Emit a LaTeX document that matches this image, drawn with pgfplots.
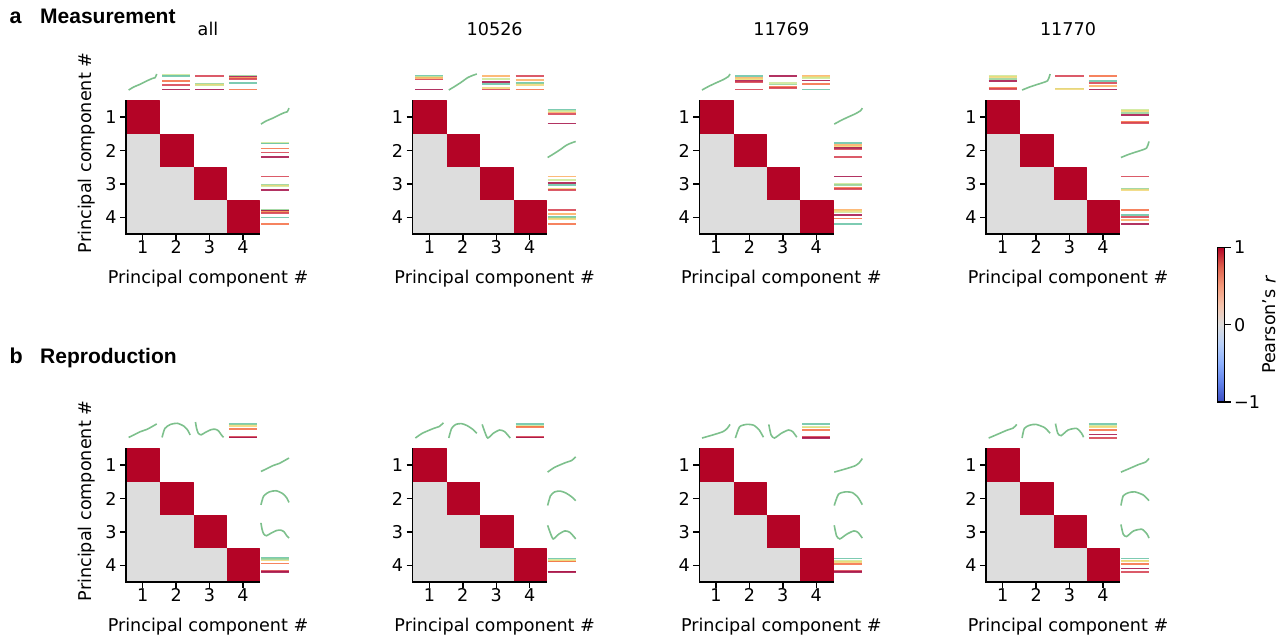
\documentclass[border=0pt]{standalone}
\usepackage{fontspec}
\setmainfont{DejaVu Sans}
\newfontfamily\headfont{Liberation Sans}
\usepackage{pgfplots}
\pgfplotsset{compat=1.18}
\usepackage{pgfplotstable}

\newcommand\figfont{\fontsize{17.6}{21}\selectfont}

\definecolor{sdred}{RGB}{165,15,70}
\definecolor{sred}{RGB}{213,62,79}
\definecolor{sorange}{RGB}{244,109,67}
\definecolor{slor}{RGB}{253,174,97}
\definecolor{syel}{RGB}{240,215,120}
\definecolor{slgr}{RGB}{205,232,150}
\definecolor{sgreen}{RGB}{150,210,150}
\definecolor{steal}{RGB}{102,194,165}
\definecolor{curvec}{RGB}{125,192,140}

\pgfplotsset{
  colormap={coolwarm}{rgb255=(59,76,192) rgb255=(98,130,234) rgb255=(141,176,254) rgb255=(184,208,249) rgb255=(221,221,221) rgb255=(245,196,173) rgb255=(244,154,123) rgb255=(222,96,77) rgb255=(180,4,38)},
  mtop/.style={x filter/.expression={#1-0.42+0.84*x}, y filter/.expression={4.81+0.48*y}},
  mright/.style={x filter/.expression={4.54+0.84*x}, y filter/.expression={4.79-#1+0.48*y}},
  mini line/.style={line width=1.7pt, opacity=0.85, no markers},
  mini curve/.style={line width=1.6pt, draw=curvec, no markers, smooth, tension=0.4},
  panel/.style={
    scale only axis, width=164pt, height=162pt,
    xmin=0.5, xmax=5.41, ymin=0.5, ymax=5.35,
    clip=false,
    axis line style={draw=none},
    xtick={1,2,3,4}, ytick={1,2,3,4}, yticklabels={4,3,2,1},
    tick pos=left, tick align=outside,
    major tick length=6pt,
    every tick/.style={black, line width=1.4pt},
    tick label style={font=\figfont},
    xticklabel style={inner sep=0.5pt},
    /pgf/number format/assume math mode=true,
    xlabel={Principal component \#},
    xlabel style={at={(axis description cs:0.5,-0.3025)}, anchor=base, font=\figfont},
    title style={at={(axis description cs:0.5,1.188)}, anchor=base, font=\figfont},
    colormap name=coolwarm, point meta min=-1, point meta max=1,
  },
  ylab/.style={ylabel={Principal component \#},
    ylabel style={at={(axis description cs:-0.2134,0.5)}, anchor=base, font=\figfont}},
}

% correlation matrix cells (lower triangle + diagonal; upper masked)
\pgfplotstableread{
x y c
0.5 4.5 1
1.5 4.5 1
1.5 3.5 1
0.5 3.5 1
1.5 3.5 1
2.5 3.5 1
2.5 2.5 1
1.5 2.5 1
2.5 2.5 1
3.5 2.5 1
3.5 1.5 1
2.5 1.5 1
3.5 1.5 1
4.5 1.5 1
4.5 0.5 1
3.5 0.5 1
0.5 3.5 0
1.5 3.5 0
1.5 2.5 0
0.5 2.5 0
0.5 2.5 0
1.5 2.5 0
1.5 1.5 0
0.5 1.5 0
1.5 2.5 0
2.5 2.5 0
2.5 1.5 0
1.5 1.5 0
0.5 1.5 0
1.5 1.5 0
1.5 0.5 0
0.5 0.5 0
1.5 1.5 0
2.5 1.5 0
2.5 0.5 0
1.5 0.5 0
2.5 1.5 0
3.5 1.5 0
3.5 0.5 0
2.5 0.5 0
}\corr

% mini curves (u v)
\pgfplotstableread[row sep=\\]{u v\\0 0\\0.18 0.19\\0.42 0.37\\0.66 0.58\\0.84 0.72\\0.94 0.77\\1 1\\}\tAa
\pgfplotstableread[row sep=\\]{u v\\0 0\\0.18 0.19\\0.43 0.47\\0.67 0.77\\0.85 0.91\\1 1\\}\tAb
\pgfplotstableread[row sep=\\]{u v\\0 0\\0.24 0.23\\0.53 0.47\\0.76 0.65\\0.94 0.84\\1 1\\}\tAc
\pgfplotstableread[row sep=\\]{u v\\0 0\\0.27 0.19\\0.51 0.33\\0.76 0.47\\0.91 0.58\\0.96 0.77\\1 1\\}\tAd

\pgfplotstableread[row sep=\\]{u v\\0 0.04\\0.18 0.19\\0.42 0.40\\0.65 0.54\\0.83 0.71\\1 0.88\\}\tRaA
\pgfplotstableread[row sep=\\]{u v\\0 0.04\\0.1 0.6\\0.3 0.85\\0.54 0.92\\0.77 0.75\\0.91 0.5\\1 0.19\\}\tRaB
\pgfplotstableread[row sep=\\]{u v\\0 1\\0.04 0.6\\0.1 0.3\\0.2 0.2\\0.35 0.35\\0.55 0.52\\0.7 0.55\\0.82 0.45\\0.92 0.2\\1 0.05\\}\tRaC
\pgfplotstableread[row sep=\\]{u v\\0 0\\0.25 0.3\\0.65 0.6\\0.85 0.72\\1 0.95\\}\tRbA
\pgfplotstableread[row sep=\\]{u v\\0 0\\0.1 0.6\\0.25 0.85\\0.45 0.9\\0.65 0.78\\0.85 0.55\\1 0.3\\}\tRbB
\pgfplotstableread[row sep=\\]{u v\\0 0.85\\0.1 0.35\\0.2 0\\0.4 0.3\\0.62 0.5\\0.8 0.4\\1 0\\}\tRbC
\pgfplotstableread[row sep=\\]{u v\\0 0\\0.4 0.2\\0.75 0.4\\0.9 0.6\\1 0.85\\}\tRcA
\pgfplotstableread[row sep=\\]{u v\\0 0\\0.15 0.7\\0.4 0.85\\0.65 0.8\\0.85 0.5\\1 0.05\\}\tRcB
\pgfplotstableread[row sep=\\]{u v\\0 0.85\\0.08 0.2\\0.2 0\\0.45 0.3\\0.7 0.5\\0.85 0.4\\1 0.05\\}\tRcC
\pgfplotstableread[row sep=\\]{u v\\0 0\\0.27 0.2\\0.64 0.48\\0.88 0.63\\1 0.85\\}\tRdA
\pgfplotstableread[row sep=\\]{u v\\0 0\\0.08 0.6\\0.27 0.8\\0.5 0.85\\0.8 0.65\\1 0.3\\}\tRdB
\pgfplotstableread[row sep=\\]{u v\\0 0.9\\0.08 0.3\\0.2 0.15\\0.45 0.5\\0.75 0.6\\0.93 0.3\\1 0.05\\}\tRdC

\newcommand\HL[3]{\addplot[#1, mini line, draw=#2] coordinates {(0,#3) (1,#3)};}
\newcommand\CV[2]{\addplot[#1, mini curve] table[x=u,y=v] {#2};}
\newcommand\heat{%
  \addplot[patch, patch type=rectangle, shader=flat, point meta=explicit] table[x=x,y=y,meta=c] {\corr};
  \draw[line width=1.4pt, line cap=rect] (axis cs:0.5,4.5) -- (axis cs:0.5,0.5) -- (axis cs:4.5,0.5);}
\newcommand\minis[4]{#1{mtop=1}#1{mright=1}#2{mtop=2}#2{mright=2}#3{mtop=3}#3{mright=3}#4{mtop=4}#4{mright=4}}

% Measurement minis
\newcommand\MaA[1]{\CV{#1}{\tAa}}
\newcommand\MaB[1]{\HL{#1}{slgr}{0.92}\HL{#1}{steal}{0.87}\HL{#1}{sorange}{0.56}\HL{#1}{sred}{0.31}\HL{#1}{sdred}{0.04}}
\newcommand\MaC[1]{\HL{#1}{sred}{0.89}\HL{#1}{sgreen}{0.38}\HL{#1}{syel}{0.33}\HL{#1}{slgr}{0.28}\HL{#1}{sdred}{0.04}}
\newcommand\MaD[1]{\HL{#1}{sgreen}{0.90}\HL{#1}{sdred}{0.83}\HL{#1}{slor}{0.77}\HL{#1}{sred}{0.71}\HL{#1}{steal}{0.42}\HL{#1}{sorange}{0.04}}
\newcommand\MbA[1]{\HL{#1}{steal}{0.89}\HL{#1}{slgr}{0.83}\HL{#1}{slor}{0.73}\HL{#1}{sred}{0.65}\HL{#1}{sdred}{0.04}}
\newcommand\MbB[1]{\CV{#1}{\tAb}}
\newcommand\MbC[1]{\HL{#1}{slor}{0.89}\HL{#1}{slgr}{0.67}\HL{#1}{sdred}{0.48}\HL{#1}{steal}{0.36}\HL{#1}{syel}{0.13}\HL{#1}{sred}{0.04}}
\newcommand\MbD[1]{\HL{#1}{sred}{0.89}\HL{#1}{slor}{0.64}\HL{#1}{steal}{0.45}\HL{#1}{sgreen}{0.40}\HL{#1}{syel}{0.33}\HL{#1}{sorange}{0.04}}
\newcommand\McA[1]{\CV{#1}{\tAc}}
\newcommand\McB[1]{\HL{#1}{steal}{0.89}\HL{#1}{slor}{0.77}\HL{#1}{syel}{0.67}\HL{#1}{sdred}{0.58}\HL{#1}{sred}{0.50}\HL{#1}{sred}{0.04}}
\newcommand\McC[1]{\HL{#1}{sdred}{0.89}\HL{#1}{slgr}{0.42}\HL{#1}{sgreen}{0.35}\HL{#1}{sorange}{0.20}\HL{#1}{sred}{0.12}}
\newcommand\McD[1]{\HL{#1}{slor}{0.89}\HL{#1}{syel}{0.83}\HL{#1}{slgr}{0.73}\HL{#1}{sdred}{0.60}\HL{#1}{sorange}{0.36}\HL{#1}{steal}{0.04}}
\newcommand\MdA[1]{\HL{#1}{slgr}{0.89}\HL{#1}{syel}{0.81}\HL{#1}{sgreen}{0.69}\HL{#1}{sdred}{0.58}\HL{#1}{sorange}{0.12}\HL{#1}{sred}{0.06}}
\newcommand\MdB[1]{\CV{#1}{\tAd}}
\newcommand\MdC[1]{\HL{#1}{sred}{0.89}\HL{#1}{sgreen}{0.10}\HL{#1}{syel}{0.06}}
\newcommand\MdD[1]{\HL{#1}{sorange}{0.89}\HL{#1}{steal}{0.58}\HL{#1}{sred}{0.46}\HL{#1}{slor}{0.25}\HL{#1}{sdred}{0.04}}

% Reproduction minis
\newcommand\RaA[1]{\CV{#1}{\tRaA}}
\newcommand\RaB[1]{\CV{#1}{\tRaB}}
\newcommand\RaC[1]{\CV{#1}{\tRaC}}
\newcommand\RaD[1]{\HL{#1}{steal}{0.88}\HL{#1}{sgreen}{0.84}\HL{#1}{syel}{0.74}\HL{#1}{sorange}{0.55}\HL{#1}{sred}{0.08}\HL{#1}{sdred}{0.04}}
\newcommand\RbA[1]{\CV{#1}{\tRbA}}
\newcommand\RbB[1]{\CV{#1}{\tRbB}}
\newcommand\RbC[1]{\CV{#1}{\tRbC}}
\newcommand\RbD[1]{\HL{#1}{steal}{0.86}\HL{#1}{slgr}{0.76}\HL{#1}{syel}{0.72}\HL{#1}{sorange}{0.67}\HL{#1}{sred}{0.06}\HL{#1}{sdred}{0.03}}
\newcommand\RcA[1]{\CV{#1}{\tRcA}}
\newcommand\RcB[1]{\CV{#1}{\tRcB}}
\newcommand\RcC[1]{\CV{#1}{\tRcC}}
\newcommand\RcD[1]{\HL{#1}{steal}{0.86}\HL{#1}{slgr}{0.70}\HL{#1}{syel}{0.66}\HL{#1}{sorange}{0.50}\HL{#1}{sred}{0.08}\HL{#1}{sdred}{0.02}}
\newcommand\RdA[1]{\CV{#1}{\tRdA}}
\newcommand\RdB[1]{\CV{#1}{\tRdB}}
\newcommand\RdC[1]{\CV{#1}{\tRdC}}
\newcommand\RdD[1]{\HL{#1}{steal}{0.86}\HL{#1}{slgr}{0.73}\HL{#1}{syel}{0.69}\HL{#1}{sorange}{0.50}\HL{#1}{sdred}{0.23}\HL{#1}{sred}{0.02}}

\begin{document}
\begin{tikzpicture}[x=1pt,y=1pt]
\path[use as bounding box] (0,0) rectangle (1288,641);

% ---- row a: Measurement ----
\begin{axis}[panel, ylab, at={(126pt,407pt)}, anchor=south west, title={all}]
\heat \minis\MaA\MaB\MaC\MaD
\end{axis}
\begin{axis}[panel, at={(412.7pt,407pt)}, anchor=south west, title={10526}]
\heat \minis\MbA\MbB\MbC\MbD
\end{axis}
\begin{axis}[panel, at={(699.3pt,407pt)}, anchor=south west, title={11769}]
\heat \minis\McA\McB\McC\McD
\end{axis}
\begin{axis}[panel, at={(986pt,407pt)}, anchor=south west, title={11770}]
\heat \minis\MdA\MdB\MdC\MdD
\end{axis}

% ---- row b: Reproduction ----
\begin{axis}[panel, ylab, at={(126pt,59pt)}, anchor=south west]
\heat \minis\RaA\RaB\RaC\RaD
\end{axis}
\begin{axis}[panel, at={(412.7pt,59pt)}, anchor=south west]
\heat \minis\RbA\RbB\RbC\RbD
\end{axis}
\begin{axis}[panel, at={(699.3pt,59pt)}, anchor=south west]
\heat \minis\RcA\RcB\RcC\RcD
\end{axis}
\begin{axis}[panel, at={(986pt,59pt)}, anchor=south west]
\heat \minis\RdA\RdB\RdC\RdD
\end{axis}

% ---- colorbar ----
\begin{axis}[at={(1209pt,239pt)}, anchor=south west, scale only axis,
  width=7pt, height=154.5pt, hide axis, xmin=0, xmax=1, ymin=0, ymax=1,
  colormap name=coolwarm, point meta min=-1, point meta max=1,
  colorbar,
  colorbar style={at={(parent axis.south west)}, anchor=south west,
    scale only axis, width=7pt, height=154.5pt,
    ytick={-1,0,1}, yticklabels={−1,0,1},
    ytick pos=right, tick align=outside, major tick length=6pt,
    every tick/.style={black, line width=1.2pt},
    axis line style={line width=1.2pt},
    tick label style={font=\figfont},
    ylabel={Pearson's \textit{r}},
    ylabel style={at={(axis description cs:8.3,0.5)}, anchor=base, font=\figfont}}]
\addplot[draw=none] coordinates {(0,0) (1,1)};
\end{axis}

% ---- panel headings ----
\node[anchor=base west, inner sep=0pt, font=\headfont\bfseries\fontsize{21.5}{25}\selectfont] at (9.5pt,617.7pt) {a};
\node[anchor=base west, inner sep=0pt, font=\headfont\bfseries\fontsize{21}{25}\selectfont] at (40pt,617.7pt) {Measurement};
\node[anchor=base west, inner sep=0pt, font=\headfont\bfseries\fontsize{21.5}{25}\selectfont] at (9.5pt,277.7pt) {b};
\node[anchor=base west, inner sep=0pt, font=\headfont\bfseries\fontsize{21}{25}\selectfont] at (40pt,277.7pt) {Reproduction};
\end{tikzpicture}
\end{document}
